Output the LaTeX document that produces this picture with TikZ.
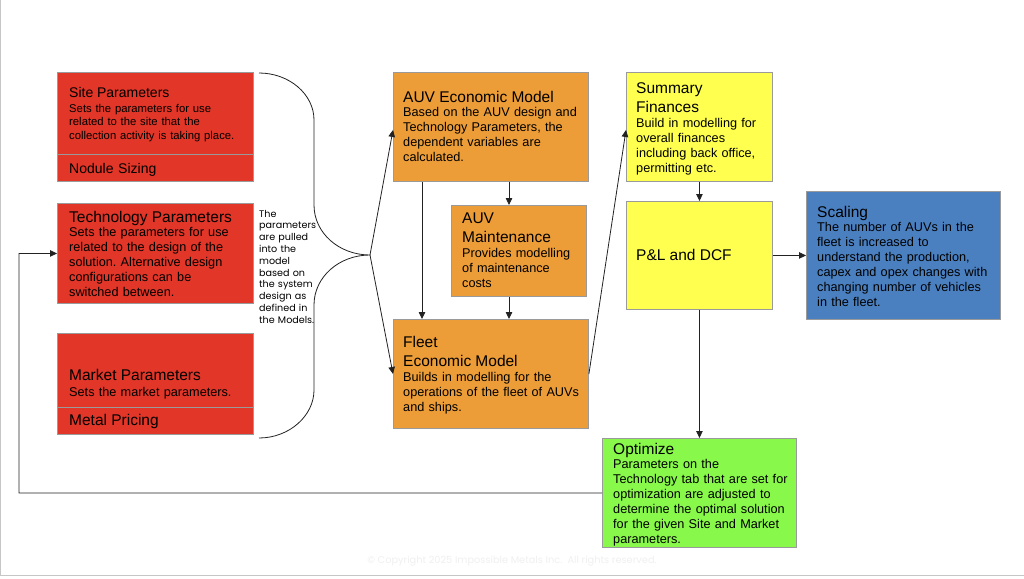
\documentclass[tikz,border=0pt]{standalone}
\usepackage{fontspec}
\setmainfont{Liberation Sans}
\newfontfamily\popfont{Poppins}
\usetikzlibrary{arrows.meta,positioning}
\frenchspacing

\definecolor{parred}{HTML}{E13628}
\definecolor{modorange}{HTML}{EC9D38}
\definecolor{finyellow}{HTML}{FFFF50}
\definecolor{scaleblue}{HTML}{4B80C0}
\definecolor{optgreen}{HTML}{88F94A}
\definecolor{boxgray}{HTML}{9A9A9A}
\definecolor{linegray}{HTML}{222222}
\definecolor{edgegray}{HTML}{C6C6C6}

\newcommand{\hd}[1]{{\fontsize{15.5}{19.5}\selectfont #1\par}}

\tikzset{
  box/.style={draw=boxgray, line width=0.9pt, anchor=north west, inner sep=0pt},
  txt/.style={anchor=base west, inner sep=0pt, text width=200pt, align=left,
    font=\fontsize{12.7}{14.9}\selectfont},
  arr/.style={-{Stealth[length=7pt, width=6.5pt, inset=0pt]}, line width=0.8pt, draw=linegray},
}

\begin{document}
\begin{tikzpicture}[x=1pt, y=-1pt]
  \useasboundingbox (0,0) rectangle (1024,578);
  \fill[white] (0,0) rectangle (1024,578);
  \draw[edgegray, line width=1pt] (0.5,0) -- (0.5,575) -- (1024,575);

  % parameter boxes
  \node[box, fill=parred, minimum width=196pt, minimum height=82pt] (site) at (57,72) {};
  \node[box, fill=parred, minimum width=196pt, minimum height=27pt] (nodule) at (57,154) {};
  \node[box, fill=parred, minimum width=196pt, minimum height=100pt] (tech) at (57,203) {};
  \node[box, fill=parred, minimum width=196pt, minimum height=74pt] (market) at (57,333) {};
  \node[box, fill=parred, minimum width=196pt, minimum height=27pt] (metal) at (57,407) {};

  % model boxes
  \node[box, fill=modorange, minimum width=195pt, minimum height=109pt] (auv) at (393,72) {};
  \node[box, fill=modorange, minimum width=135pt, minimum height=91pt] (maint) at (451,205) {};
  \node[box, fill=modorange, minimum width=195pt, minimum height=109pt] (fleet) at (393,319) {};

  % finance and results
  \node[box, fill=finyellow, minimum width=146pt, minimum height=109pt] (summary) at (626,72) {};
  \node[box, fill=finyellow, minimum width=146pt, minimum height=108pt] (pl) at (626,201) {};
  \node[box, fill=scaleblue, minimum width=194pt, minimum height=128pt] (scaling) at (806,191) {};
  \node[box, fill=optgreen, minimum width=194pt, minimum height=109pt] (opt) at (602,438) {};

  % texts
  \node[txt, font=\fontsize{11.3}{13.5}\selectfont] (sitetxt) at (69,97)
    {{\fontsize{14}{17}\selectfont Site Parameters\par}\vspace{1.5pt}Sets the parameters for use\\related to the site that the\\collection activity is taking place.};
  \node[txt, font=\fontsize{14}{17}\selectfont] (nodtxt) at (69,173) {Nodule Sizing};
  \node[txt] (techtxt) at (69,222)
    {\hd{Technology Parameters}Sets the parameters for use\\related to the design of the\\solution. Alternative design\\configurations can be\\switched between.};
  \node[txt] (markettxt) at (69,380)
    {\hd{Market Parameters}\vspace{1.5pt}Sets the market parameters.};
  \node[txt] (metaltxt) at (69,425) {\hd{Metal Pricing}};

  \node[txt] (auvtxt) at (403,102)
    {\hd{AUV Economic Model}Based on the AUV design and\\Technology Parameters, the\\dependent variables are\\calculated.};
  \node[txt] (mainttxt) at (462,223)
    {\hd{AUV\\Maintenance}Provides modelling\\of maintenance\\costs};
  \node[txt] (fleettxt) at (403,347)
    {\hd{Fleet\\Economic Model}Builds in modelling for the\\operations of the fleet of AUVs\\and ships.};
  \node[txt] (sumtxt) at (636,93)
    {\hd{Summary\\Finances}Build in modelling for\\overall finances\\including back office,\\permitting etc.};
  \node[txt] (pltxt) at (636,260) {\hd{P\&L and DCF}};
  \node[txt] (scaletxt) at (817,217)
    {\hd{Scaling}The number of AUVs in the\\fleet is increased to\\understand the production,\\capex and opex changes with\\changing number of vehicles\\in the fleet.};
  \node[txt] (opttxt) at (613,454)
    {\hd{Optimize}Parameters on the\\Technology tab that are set for\\optimization are adjusted to\\determine the optimal solution\\for the given Site and Market\\parameters.};

  % brace and note
  \coordinate (tip) at (370,255);
  \draw[linegray, line width=0.8pt] (259,73) .. controls (289,73) and (314,94) .. (314,120)
    -- (314,205) .. controls (314,233) and (339,255) .. (tip)
    .. controls (339,255) and (314,277) .. (314,305)
    -- (314,390) .. controls (314,416) and (289,438) .. (259,438);
  \node[txt, text width=70pt, font=\popfont\fontsize{9.6}{11.8}\selectfont] (note) at (259,217)
    {The\\parameters\\are pulled\\into the\\model\\based on\\the system\\design as\\defined in\\the Models.};

  % connectors
  \coordinate (loop) at (19,493);
  \draw[arr] (tip) -- ([yshift=-3pt]auv.west);
  \draw[arr] (tip) -- (fleet.west);
  \draw[arr] ([xshift=29pt]auv.south west) -- ([xshift=29pt]fleet.north west);
  \draw[arr] ([xshift=116pt]auv.south west) -- ([xshift=58pt]maint.north west);
  \draw[arr] ([xshift=58pt]maint.south west) -- ([xshift=116pt]fleet.north west);
  \draw[arr] (fleet.east) -- ([yshift=-3pt]summary.west);
  \draw[arr] (summary.south) -- (pl.north);
  \draw[arr] (pl.east) -- (scaling.west);
  \draw[arr] (pl.south) -- (opt.north);
  \draw[arr] (opt.west) -- (loop) |- (tech.west);

  \node[font=\popfont\fontsize{9.8}{11}\selectfont, text=gray!12] (copy) at (512,561)
    {© Copyright 2025 Impossible Metals Inc.\ \ All rights reserved.};
\end{tikzpicture}
\end{document}
